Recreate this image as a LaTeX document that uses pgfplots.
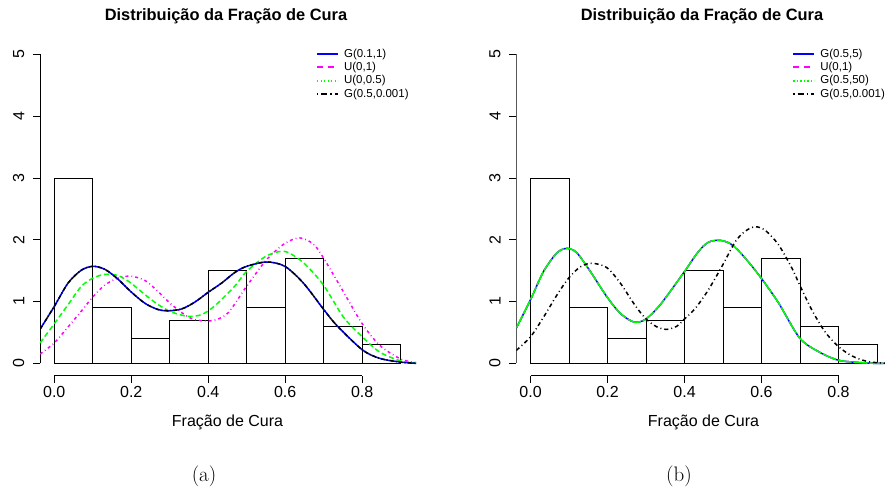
\documentclass[border=0pt]{standalone}
\usepackage{fontspec}
\usepackage{pgfplots}
\pgfplotsset{compat=1.18}
\newfontfamily\arial{Liberation Sans}
\newcommand\labfont{\arial\fontsize{16}{19}\selectfont}
\newcommand\legfont{\arial\fontsize{11.5}{13}\selectfont}
\newcommand\titfont{\arial\bfseries\fontsize{16.4}{19}\selectfont}
\definecolor{rblue}{RGB}{0,0,255}
\definecolor{rmagenta}{RGB}{255,0,255}
\definecolor{rgreen}{RGB}{0,255,0}

\pgfplotsset{
  histpanel/.style={
    scale only axis, width=376.1pt, height=333.7pt,
    xmin=-0.037, xmax=0.94, ymin=-0.2, ymax=5.2,
    axis x line*=bottom, axis y line*=left,
    axis line style={draw=none},
    tick align=outside, major tick length=7pt,
    tick style={black, line width=0.8pt},
    xtick={0,0.2,0.4,0.6,0.8}, xticklabels={0.0,0.2,0.4,0.6,0.8},
    ytick={0,1,2,3,4,5}, yticklabels={0,1,2,3,4,5},
    ticklabel style={font=\labfont},
    yticklabel style={rotate=90, anchor=south, inner sep=8.5pt},
    legend cell align=left,
    legend style={draw=none, fill=none, font=\legfont,
      at={(axis description cs:0.734,0.981)}, anchor=north west,
      inner sep=0pt, outer sep=0pt, row sep=1.3pt, column sep=4pt,
      nodes={inner sep=1pt}},
  },
  % legend samples, each with its own fixed drawing
  lgblue/.style={legend image code/.code={%
    \draw[draw=rblue, line width=2pt, solid] (0pt,0pt) -- (21pt,0pt);}},
  lgmag/.style={legend image code/.code={%
    \draw[draw=rmagenta, line width=2pt, dash pattern=on 6pt off 5pt] (0pt,0pt) -- (21pt,0pt);}},
  lggreen/.style={legend image code/.code={%
    \draw[draw=rgreen, line width=2pt, dash pattern=on 1.3pt off 2.2pt] (0pt,0pt) -- (21pt,0pt);}},
  lgblack/.style={legend image code/.code={%
    \draw[draw=black, line width=2pt, dash pattern=on 1.3pt off 3pt on 6pt off 3pt] (0pt,0pt) -- (21pt,0pt);}},
  histbars/.style={ybar interval, draw=black, fill=white, line width=0.8pt},
  curve/.style={line width=1.5pt, smooth, forget plot},
}

\begin{document}
\begin{tikzpicture}[x=1pt,y=1pt]
\path[use as bounding box] (0,0) rectangle (885,492);
\begin{scope}
\clip (0,0) rectangle (885,492);

% ---------- panel (a)
\begin{axis}[histpanel, at={(40pt,116.3pt)}, anchor=south west]
\addlegendimage{lgblue}
\addlegendentry{G(0.1,1)}
\addlegendimage{lgmag}
\addlegendentry{U(0,1)}
\addlegendimage{lggreen}
\addlegendentry{U(0,0.5)}
\addlegendimage{lgblack}
\addlegendentry{G(0.5,0.001)}
\draw[line width=0.8pt] (axis cs:0,-0.2) -- (axis cs:0.8,-0.2);
\draw[line width=0.8pt] (axis cs:-0.037,0) -- (axis cs:-0.037,5);
\addplot[histbars, forget plot] coordinates {
  (0,3) (0.1,0.9) (0.2,0.4) (0.3,0.7) (0.4,1.5) (0.5,0.9) (0.6,1.7) (0.7,0.6) (0.8,0.3) (0.9,0.3)};
% U(0,1)
\addplot[curve, rmagenta, dash pattern=on 3pt off 3pt on 0.8pt off 3pt] coordinates {
  (-0.037,0.15) (0,0.33) (0.036,0.59) (0.071,0.85) (0.101,1.08) (0.132,1.27)
  (0.166,1.38) (0.199,1.41) (0.236,1.34) (0.270,1.16) (0.305,0.95) (0.348,0.75)
  (0.383,0.69) (0.417,0.70) (0.452,0.82) (0.500,1.25) (0.552,1.68) (0.599,1.94)
  (0.638,2.03) (0.673,1.93) (0.699,1.71) (0.751,1.16) (0.800,0.64) (0.846,0.29)
  (0.900,0.07) (0.940,0.01)};
% U(0,0.5)
\addplot[curve, rgreen, dash pattern=on 5pt off 3pt] coordinates {
  (-0.037,0.33) (0,0.64) (0.036,0.95) (0.071,1.25) (0.101,1.38) (0.132,1.44)
  (0.166,1.42) (0.199,1.30) (0.236,1.11) (0.270,0.95) (0.305,0.83) (0.348,0.76)
  (0.383,0.79) (0.417,0.93) (0.469,1.25) (0.500,1.49) (0.552,1.74) (0.599,1.81)
  (0.647,1.63) (0.699,1.27) (0.751,0.75) (0.800,0.43) (0.846,0.18) (0.900,0.04)
  (0.940,0.01)};
% G(0.1,1)
\addplot[curve, rblue] coordinates {
  (-0.037,0.55) (0,0.92) (0.036,1.30) (0.071,1.51) (0.101,1.57) (0.132,1.52)
  (0.166,1.36) (0.199,1.16) (0.236,0.97) (0.270,0.87) (0.296,0.85) (0.331,0.88)
  (0.365,0.99) (0.400,1.15) (0.435,1.30) (0.469,1.47) (0.500,1.57) (0.552,1.64)
  (0.599,1.57) (0.647,1.30) (0.699,0.88) (0.733,0.62) (0.800,0.22) (0.846,0.08)
  (0.900,0.02) (0.940,0.00)};
% G(0.5,0.001)
\addplot[curve, black, dash pattern=on 4pt off 2pt on 1pt off 2pt] coordinates {
  (-0.037,0.55) (0,0.92) (0.036,1.30) (0.071,1.51) (0.101,1.57) (0.132,1.52)
  (0.166,1.36) (0.199,1.16) (0.236,0.97) (0.270,0.87) (0.296,0.85) (0.331,0.88)
  (0.365,0.99) (0.400,1.15) (0.435,1.30) (0.469,1.47) (0.500,1.57) (0.552,1.64)
  (0.599,1.57) (0.647,1.30) (0.699,0.88) (0.733,0.62) (0.800,0.22) (0.846,0.08)
  (0.900,0.02) (0.940,0.00)};
\end{axis}

% ---------- panel (b)
\begin{axis}[histpanel, at={(516.3pt,116.3pt)}, anchor=south west]
\addlegendimage{lgblue}
\addlegendentry{G(0.5,5)}
\addlegendimage{lgmag}
\addlegendentry{U(0,1)}
\addlegendimage{lggreen}
\addlegendentry{G(0.5,50)}
\addlegendimage{lgblack}
\addlegendentry{G(0.5,0.001)}
\draw[line width=0.8pt] (axis cs:0,-0.2) -- (axis cs:0.8,-0.2);
\draw[line width=0.8pt] (axis cs:-0.037,0) -- (axis cs:-0.037,5);
\addplot[histbars, forget plot] coordinates {
  (0,3) (0.1,0.9) (0.2,0.4) (0.3,0.7) (0.4,1.5) (0.5,0.9) (0.6,1.7) (0.7,0.6) (0.8,0.3) (0.9,0.3)};
% G(0.5,5), U(0,1) and G(0.5,50) coincide
\addplot[curve, rblue] coordinates {
  (-0.037,0.57) (0,1.03) (0.034,1.49) (0.069,1.79) (0.095,1.86) (0.120,1.79)
  (0.155,1.49) (0.198,1.08) (0.233,0.81) (0.268,0.67) (0.298,0.71) (0.337,0.95)
  (0.397,1.46) (0.435,1.80) (0.462,1.96) (0.493,1.99) (0.523,1.92) (0.558,1.70)
  (0.599,1.38) (0.644,0.98) (0.699,0.41) (0.748,0.19) (0.800,0.05) (0.861,0.01)
  (0.900,0.00) (0.940,0.00)};
\addplot[curve, rmagenta, dash pattern=on 4pt off 4pt] coordinates {
  (-0.037,0.57) (0,1.03) (0.034,1.49) (0.069,1.79) (0.095,1.86) (0.120,1.79)
  (0.155,1.49) (0.198,1.08) (0.233,0.81) (0.268,0.67) (0.298,0.71) (0.337,0.95)
  (0.397,1.46) (0.435,1.80) (0.462,1.96) (0.493,1.99) (0.523,1.92) (0.558,1.70)
  (0.599,1.38) (0.644,0.98) (0.699,0.41) (0.748,0.19) (0.800,0.05) (0.861,0.01)
  (0.900,0.00) (0.940,0.00)};
\addplot[curve, rgreen, dash pattern=on 14pt off 2pt] coordinates {
  (-0.037,0.57) (0,1.03) (0.034,1.49) (0.069,1.79) (0.095,1.86) (0.120,1.79)
  (0.155,1.49) (0.198,1.08) (0.233,0.81) (0.268,0.67) (0.298,0.71) (0.337,0.95)
  (0.397,1.46) (0.435,1.80) (0.462,1.96) (0.493,1.99) (0.523,1.92) (0.558,1.70)
  (0.599,1.38) (0.644,0.98) (0.699,0.41) (0.748,0.19) (0.800,0.05) (0.861,0.01)
  (0.900,0.00) (0.940,0.00)};
% G(0.5,0.001)
\addplot[curve, black, dash pattern=on 4pt off 3pt on 1pt off 3pt] coordinates {
  (-0.037,0.21) (0,0.43) (0.034,0.75) (0.069,1.11) (0.099,1.38) (0.129,1.56)
  (0.159,1.62) (0.198,1.55) (0.233,1.30) (0.268,0.97) (0.298,0.73) (0.328,0.59)
  (0.354,0.55) (0.380,0.60) (0.397,0.70) (0.428,0.89) (0.462,1.19) (0.499,1.59)
  (0.532,1.97) (0.558,2.14) (0.584,2.21) (0.610,2.15) (0.644,1.92) (0.679,1.54)
  (0.699,1.27) (0.731,0.86) (0.765,0.51) (0.800,0.27) (0.835,0.12) (0.869,0.04)
  (0.900,0.01) (0.940,0.00)};
\end{axis}

% titles, axis labels and sub-captions
\node[font=\titfont, anchor=base] at (226,471.3) {Distribuição da Fração de Cura};
\node[font=\titfont, anchor=base] at (702,471.3) {Distribuição da Fração de Cura};
\node[font=\labfont, anchor=base] at (227.5,65.5) {Fração de Cura};
\node[font=\labfont, anchor=base] at (703.5,65.5) {Fração de Cura};
\node[font=\fontsize{21}{25}\selectfont, anchor=base] at (204,10.7) {(a)};
\node[font=\fontsize{21}{25}\selectfont, anchor=base] at (679,10.7) {(b)};
\end{scope}
\end{tikzpicture}
\end{document}
